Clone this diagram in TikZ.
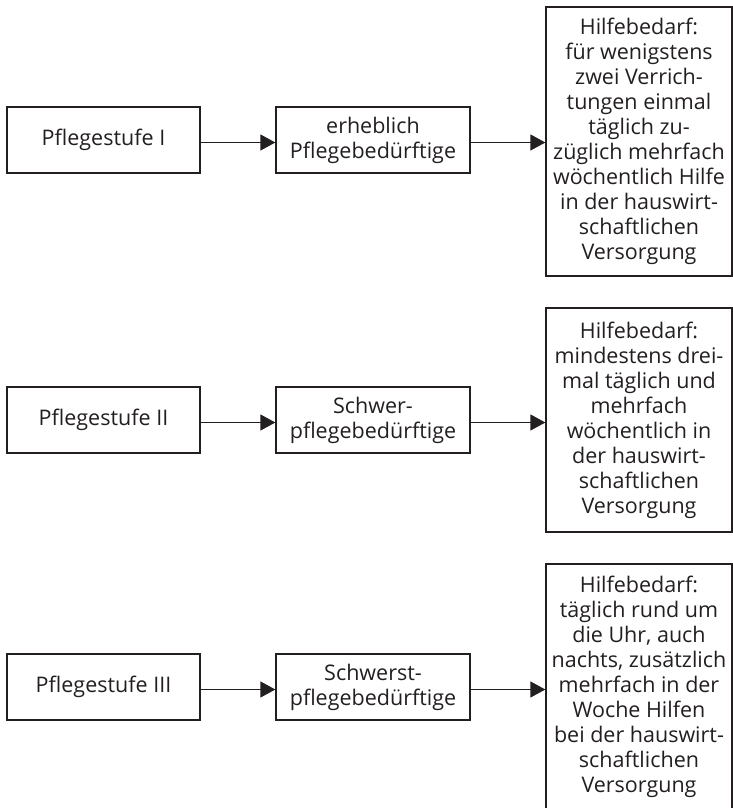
\documentclass[tikz,border=0pt]{standalone}
\usepackage{fontspec}
\setmainfont{Open Sans}
\usetikzlibrary{arrows.meta}
\definecolor{ink}{HTML}{231F20}
\begin{document}
\begin{tikzpicture}[x=1pt,y=-1pt,
  box/.style={draw=ink, line width=1.3pt, text=ink, align=center, inner sep=0pt,
    font=\fontsize{21.5}{25}\selectfont},
  boxA/.style={box, minimum width=193pt, minimum height=66pt},
  boxB/.style={box, minimum width=194pt, minimum height=66pt},
  boxC/.style={box, minimum width=186pt},
  conn/.style={draw=ink, line width=1.3pt, -{Triangle[length=15pt,width=16pt]}}]
\useasboundingbox (0,0) rectangle (733,808);
% row 1
\node[boxA] (a1) at (103.5,140) {Pflegestufe I};
\node[boxB] (b1) at (373,140) {erheblich\\Pflegebedürftige};
\node[boxC, minimum height=269pt] (c1) at (639,141.5) {Hilfebedarf:\\für wenigstens\\zwei Verrich-\\tungen einmal\\täglich zu-\\züglich mehrfach\\wöchentlich Hilfe\\in der hauswirt-\\schaftlichen\\Versorgung};
% row 2
\node[boxA] (a2) at (103.5,420) {Pflegestufe II};
\node[boxB] (b2) at (373,420) {Schwer-\\pflegebedürftige};
\node[boxC, minimum height=224pt] (c2) at (639,420) {Hilfebedarf:\\mindestens drei-\\mal täglich und\\mehrfach\\wöchentlich in\\der hauswirt-\\schaftlichen\\Versorgung};
% row 3
\node[boxA] (a3) at (103.5,687) {Pflegestufe III};
\node[boxB] (b3) at (373,687) {Schwerst-\\pflegebedürftige};
\node[boxC, minimum height=246pt] (c3) at (639,687) {Hilfebedarf:\\täglich rund um\\die Uhr, auch\\nachts, zusätzlich\\mehrfach in der\\Woche Hilfen\\bei der hauswirt-\\schaftlichen\\Versorgung};
% connectors
\foreach \r in {1,2,3}{
  \draw[conn] ([yshift=-2.5pt]a\r.east) -- ([yshift=-2.5pt]a\r.east -| b\r.west);
  \draw[conn] ([yshift=-2.5pt]b\r.east) -- ([yshift=-2.5pt]b\r.east -| c\r.west);
}
\end{tikzpicture}
\end{document}
